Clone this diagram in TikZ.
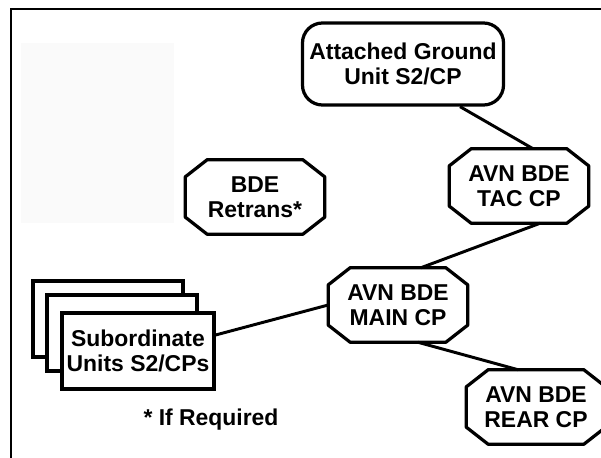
\documentclass[tikz,border=0pt]{standalone}
\usepackage{fontspec}
\setmainfont{Liberation Sans}
\tikzset{%
	every node/.style = {font = \fontsize{16.3}{17.8}\selectfont\bfseries, align = center},
	octo/.style = {name = #1, rectangle, inner sep = 0pt, minimum width = 3.475cm, minimum height = 1.85cm},
	unit/.style = {name = #1, rectangle, draw, line width = 2.3pt, fill = white, minimum width = 3.75cm, minimum height = 1.9cm},
	link/.style = {line width = 2.1pt}
}

\begin{document}
\begin{tikzpicture}[x=0.025cm, y=-0.025cm]
	\useasboundingbox (0,0) rectangle (601,458);
	\fill [black!2] (21,43) rectangle (174,223);
	\draw [line width = 1.4pt] (11,458) -- (11,9) -- (601,9);
	\node [name = att, rectangle, rounded corners = 0.5cm, draw, line width = 2.3pt, minimum width = 5.025cm, minimum height = 2.05cm] at (403,64) {Attached Ground\\Unit S2/CP};
	\node [octo = {tac}] at (519,186) {AVN BDE\\TAC CP};
	\node [octo = {ret}] at (255,197) {BDE\\Retrans*};
	\node [octo = {main}] at (398,305) {AVN BDE\\MAIN CP};
	\node [octo = {rear}] at (536,407) {AVN BDE\\REAR CP};
	% octagon outlines
	\foreach \n in {tac, ret, main, rear}
		\draw [line width = 2.3pt, line join = round] ([xshift = 0.55cm]\n.north west) -- ([xshift = -0.55cm]\n.north east) -- ([yshift = -0.43cm]\n.north east) -- ([yshift = 0.43cm]\n.south east) -- ([xshift = -0.55cm]\n.south east) -- ([xshift = 0.55cm]\n.south west) -- ([yshift = 0.43cm]\n.south west) -- ([yshift = -0.43cm]\n.north west) -- cycle;
	\node [unit = {sub3}] at (108,319) {};
	\node [unit = {sub2}] at (122,333) {};
	\node [unit = {sub}] at (138,351) {Subordinate\\Units S2/CPs};
	\node [name = note] at (211,420) {* If Required};
	\draw [link] ([xshift = 1.425cm]att.south) -- ([xshift = 0.35cm]tac.north);
	\draw [link] ([xshift = 0.525cm]tac.south) -- ([xshift = 0.575cm]main.north);
	\draw [link] (main.west) -- ([yshift = 0.4cm]sub.east);
	\draw [link] ([xshift = 0.5cm]main.south) -- ([xshift = -0.45cm]rear.north);
\end{tikzpicture}
\end{document}
